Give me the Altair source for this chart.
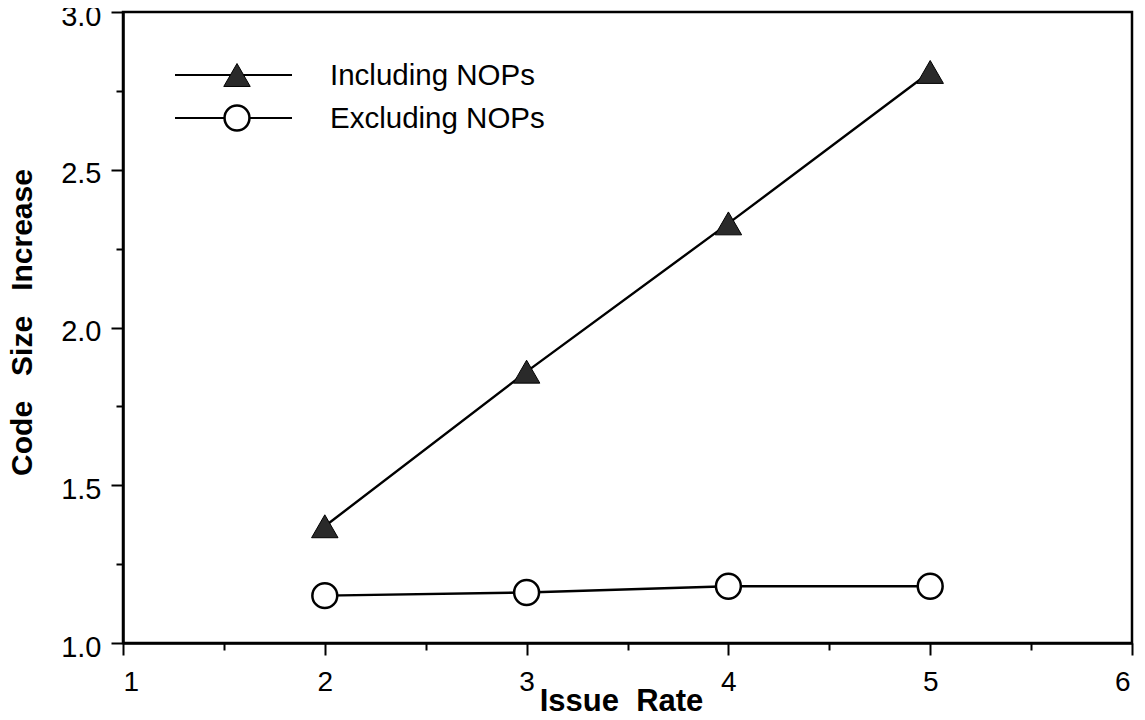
import altair as alt
import pandas as pd

issue_rate = [2, 3, 4, 5]
including_nops = [1.37, 1.86, 2.33, 2.81]
excluding_nops = [1.15, 1.16, 1.18, 1.18]
series_names = ["Including NOPs", "Excluding NOPs"]

x_ticks = [1, 1.5, 2, 2.5, 3, 3.5, 4, 4.5, 5, 5.5, 6]
y_ticks = [1.0, 1.25, 1.5, 1.75, 2.0, 2.25, 2.5, 2.75, 3.0]

df = pd.DataFrame({
    "rate": issue_rate * 2,
    "value": including_nops + excluding_nops,
    "series": [series_names[0]] * 4 + [series_names[1]] * 4,
})

W, H = 1009, 631
FONT = "Liberation Sans, Arial, Helvetica, sans-serif"
NARROW = "Liberation Sans Narrow, Arial Narrow, Liberation Sans, sans-serif"

x_scale = alt.Scale(domain=[1, 6], nice=False, zero=False)
y_scale = alt.Scale(domain=[1, 3], nice=False, zero=False)

minor_size_x = {"condition": {"test": "abs(datum.value - round(datum.value)) > 0.01", "value": 7}, "value": 12}
minor_size_y = {"condition": {"test": "abs(datum.value*2 - round(datum.value*2)) > 0.01", "value": 7}, "value": 12}

x_axis = alt.Axis(
    values=x_ticks,
    labelExpr="abs(datum.value - round(datum.value)) > 0.01 ? '' : format(datum.value, 'd')",
    tickSize=minor_size_x,
    tickWidth=2,
    tickColor="black",
    domainColor="black",
    domainWidth=2.5,
    grid=False,
    labelFont=NARROW,
    labelFontSize=28,
    labelColor="black",
    labelPadding=13,
    labelOffset={"condition": {"test": "datum.value > 5.9", "value": -2}, "value": 0},
    title="Issue\u00a0\u00a0Rate",
    titleFont=NARROW,
    titleFontSize=31,
    titleFontWeight="bold",
    titleColor="black",
    titleBaseline="alphabetic",
    titleAlign="center",
    titleX=498,
    titleY=67,
)

y_axis = alt.Axis(
    values=y_ticks,
    labelExpr="abs(datum.value*2 - round(datum.value*2)) > 0.01 ? '' : format(datum.value, '.1f')",
    tickSize=minor_size_y,
    tickWidth=2,
    tickColor="black",
    domainColor="black",
    domainWidth=2.5,
    grid=False,
    labelFont=FONT,
    labelFontSize=29,
    labelColor="black",
    labelPadding=10,
    labelOffset=4,
    title="Code\u00a0\u00a0\u00a0Size\u00a0\u00a0\u00a0Increase",
    titleFont=FONT,
    titleFontSize=30,
    titleFontWeight="bold",
    titleColor="black",
    titleAngle=-90,
    titleBaseline="alphabetic",
    titleAlign="center",
    titleX=-92,
    titleY=310,
)

base = alt.Chart(df).encode(
    x=alt.X("rate:Q", scale=x_scale, axis=x_axis),
    y=alt.Y("value:Q", scale=y_scale, axis=y_axis),
    detail="series:N",
)

lines = base.mark_line(color="black", strokeWidth=2.4)

tri = base.transform_filter(alt.datum.series == series_names[0]).mark_point(
    shape="triangle-up", size=700, filled=True, fill="#2a2a2a", stroke="black", strokeWidth=1, opacity=1
)
circ = base.transform_filter(alt.datum.series == series_names[1]).mark_point(
    shape="circle", size=620, filled=True, fill="white", stroke="black", strokeWidth=2.5, opacity=1
)

# manual legend
leg_df = pd.DataFrame({"label": series_names})
leg_layers = []
rows = [(63, "triangle-up", "#2a2a2a", 1, 700), (106, "circle", "white", 2.5, 620)]
for i, (ly, shp, fcol, sw, sz) in enumerate(rows):
    src = alt.Chart(leg_df).transform_filter(alt.datum.label == series_names[i])
    leg_layers.append(src.mark_rule(color="black", strokeWidth=2).encode(
        x=alt.value(52), x2=alt.value(169), y=alt.value(ly)))
    leg_layers.append(src.mark_point(shape=shp, size=sz, filled=True, fill=fcol,
                                     stroke="black", strokeWidth=sw, opacity=1).encode(
        x=alt.value(114), y=alt.value(ly)))
    leg_layers.append(src.mark_text(align="left", baseline="middle", font=FONT,
                                    fontSize=29.5, color="black").encode(
        x=alt.value(207), y=alt.value(ly + 1), text="label:N"))

chart = alt.layer(lines, tri, circ, *leg_layers).properties(
    width=W, height=H,
    autosize=alt.AutoSizeParams(type="none"),
    padding={"left": 115, "top": 4, "right": 5, "bottom": 69},
    background="white",
).configure_view(stroke="black", strokeWidth=2.5)

chart.save("out.html", embed_options={"renderer": "svg", "actions": False})
